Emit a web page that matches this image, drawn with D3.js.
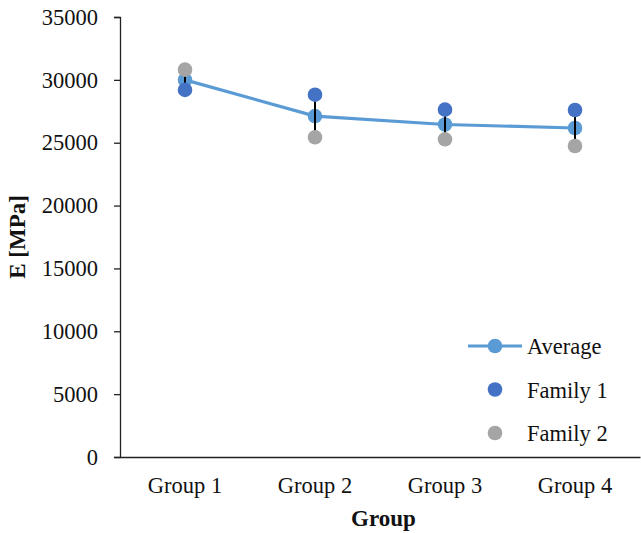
<!DOCTYPE html>
<html>
<head>
<meta charset="utf-8">
<script src="https://cdn.jsdelivr.net/npm/d3@7"></script>
<style>
  html, body { margin: 0; padding: 0; background: #fff; }
  svg { display: block; }
</style>
</head>
<body>
<div id="chart"></div>
<script>
// data
const groups   = ['Group 1', 'Group 2', 'Group 3', 'Group 4'];
const average  = [30000, 27120, 26450, 26170];
const family1  = [29200, 28820, 27630, 27600];
const family2  = [30810, 25430, 25270, 24740];
const yTicks   = [0, 5000, 10000, 15000, 20000, 25000, 30000, 35000];

const W = 641, H = 533;
const M = { top: 17, right: 1, bottom: 76, left: 120 };
const FONT = '"Liberation Serif", "Times New Roman", serif';
const FS = 22.5;

const svg = d3.select('#chart').append('svg')
  .attr('width', W).attr('height', H)
  .style('font-family', FONT);

const x = d3.scaleBand().domain(groups).range([M.left, W - M.right]);
const cx = g => x(g) + x.bandwidth() / 2;
const y = d3.scaleLinear().domain([0, 35000]).range([H - M.bottom, M.top]);

// axes
const yAxis = svg.append('g')
  .attr('transform', `translate(${M.left},0)`)
  .call(d3.axisLeft(y).tickValues(yTicks).tickSize(6).tickPadding(16).tickFormat(d3.format('d')));
yAxis.selectAll('path, line').attr('stroke', '#222').attr('stroke-width', 1.3);
yAxis.selectAll('text').attr('font-size', FS).attr('font-family', FONT).attr('fill', '#111');

const xAxis = svg.append('g')
  .attr('transform', `translate(0,${H - M.bottom})`)
  .call(d3.axisBottom(x).tickSize(0).tickPadding(20).tickSizeOuter(0));
xAxis.select('path').attr('stroke', '#222').attr('stroke-width', 1.3);
xAxis.selectAll('text').attr('font-size', FS).attr('font-family', FONT).attr('fill', '#111');

// axis titles
svg.append('text')
  .attr('x', (M.left + W) / 2 + 3).attr('y', 526)
  .attr('text-anchor', 'middle')
  .attr('font-size', 23).attr('font-weight', 'bold').attr('fill', '#111')
  .text('Group');
svg.append('text')
  .attr('transform', `translate(25,${(M.top + H - M.bottom) / 2}) rotate(-90)`)
  .attr('text-anchor', 'middle')
  .attr('font-size', 23).attr('font-weight', 'bold').attr('fill', '#111')
  .text('E [MPa]');

const C_AVG = '#5B9BD5', C_F1 = '#4472C4', C_F2 = '#A5A5A5';

// average line + markers
const avgData = groups.map((g, i) => ({ g, v: average[i] }));
svg.append('path')
  .datum(avgData)
  .attr('fill', 'none').attr('stroke', C_AVG).attr('stroke-width', 3.2)
  .attr('d', d3.line().x(d => cx(d.g)).y(d => y(d.v)));
svg.selectAll('.avg').data(avgData).join('circle')
  .attr('cx', d => cx(d.g)).attr('cy', d => y(d.v)).attr('r', 7.3)
  .attr('fill', C_AVG);

// error bars (min–max of the two families)
svg.selectAll('.err').data(groups).join('line')
  .attr('x1', g => cx(g)).attr('x2', g => cx(g))
  .attr('y1', (g, i) => y(Math.max(family1[i], family2[i])))
  .attr('y2', (g, i) => y(Math.min(family1[i], family2[i])))
  .attr('stroke', '#000').attr('stroke-width', 2);

// family markers
svg.selectAll('.f1').data(groups).join('circle')
  .attr('cx', g => cx(g)).attr('cy', (g, i) => y(family1[i])).attr('r', 7.3)
  .attr('fill', C_F1);
svg.selectAll('.f2').data(groups).join('circle')
  .attr('cx', g => cx(g)).attr('cy', (g, i) => y(family2[i])).attr('r', 7.3)
  .attr('fill', C_F2);

// legend
const legend = [
  { name: 'Average', color: C_AVG, line: true },
  { name: 'Family 1', color: C_F1 },
  { name: 'Family 2', color: C_F2 },
];
const lg = svg.append('g').attr('transform', 'translate(495,346)');
legend.forEach((d, i) => {
  const row = lg.append('g').attr('transform', `translate(0,${i * 43.5})`);
  if (d.line) row.append('line').attr('x1', -27).attr('x2', 27)
    .attr('stroke', d.color).attr('stroke-width', 3.2);
  row.append('circle').attr('r', 7.3).attr('fill', d.color);
  row.append('text').attr('x', 32).attr('y', 8)
    .attr('font-size', FS).attr('fill', '#111').text(d.name);
});
</script>
</body>
</html>
